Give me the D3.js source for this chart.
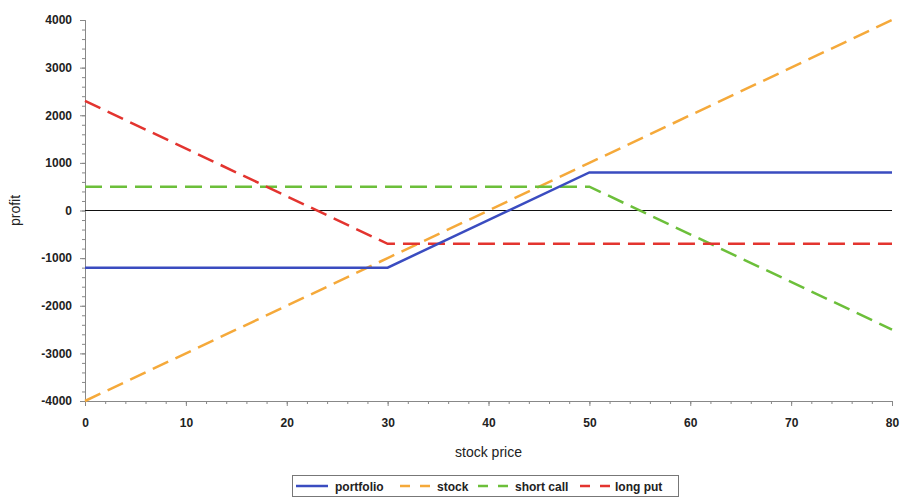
<!DOCTYPE html>
<html><head><meta charset="utf-8">
<script src="https://cdn.jsdelivr.net/npm/d3@7"></script>
<style>body{margin:0;background:#fff}svg{display:block}text{font-family:"Liberation Sans",Arial,sans-serif}</style>
</head><body><svg id="c" width="901" height="500"></svg>
<script>
const stockPrices = [0, 30, 50, 80];
const portfolio = [-1200, -1200, 800, 800];
const stock = [-4000, -1000, 1000, 4000];
const shortCall = [500, 500, 500, -2500];
const longPut = [2300, -700, -700, -700];
const xTicks = [0,10,20,30,40,50,60,70,80];
const yTicks = [-4000,-3000,-2000,-1000,0,1000,2000,3000,4000];
const seriesNames = ["portfolio","stock","short call","long put"];

const svg = d3.select("#c");
const L=85, R=892, T=20, B=401;
const x = d3.scaleLinear().domain([0,80]).range([L,R]);
const y = d3.scaleLinear().domain([-4000,4000]).range([B,T]);
const fmt = d => String(d);

const axisColor="#888";
const gx = svg.append("g").attr("transform",`translate(0,${B})`)
  .call(d3.axisBottom(x).tickValues(d3.range(0,81,2)).tickSize(3).tickFormat(""));
const gy = svg.append("g").attr("transform",`translate(${L},0)`)
  .call(d3.axisLeft(y).tickValues(d3.range(-4000,4001,200)).tickSize(3).tickFormat(""));
[gx,gy].forEach(g=>{g.selectAll("path,line").attr("stroke",axisColor);});
const gx2 = svg.append("g").attr("transform",`translate(0,${B})`)
  .call(d3.axisBottom(x).tickValues(xTicks).tickSize(5).tickPadding(12).tickFormat(fmt));
const gy2 = svg.append("g").attr("transform",`translate(${L},0)`)
  .call(d3.axisLeft(y).tickValues(yTicks).tickSize(5).tickPadding(8).tickFormat(fmt));
[gx2,gy2].forEach(g=>{g.selectAll("path,line").attr("stroke",axisColor);
  g.selectAll("text").attr("font-size","12px").attr("fill","#222").attr("font-weight","bold")
   .style("font-family",'"Liberation Sans",Arial,sans-serif');});

svg.append("line").attr("x1",x(0)).attr("x2",x(80)).attr("y1",y(0)).attr("y2",y(0))
  .attr("stroke","#111").attr("stroke-width",1);

const colors=["#3a4cc0","#f5a93a","#6cbf3a","#e3342f"];
const dashes=[null,"17,8","17,8","17,8"];
const data=[portfolio,stock,shortCall,longPut];
const line=d3.line().x((d,i)=>x(stockPrices[i])).y(d=>y(d));
[1,2,3,0].forEach(k=>{
  svg.append("path").attr("d",line(data[k])).attr("fill","none")
    .attr("stroke",colors[k]).attr("stroke-width",2.5)
    .attr("stroke-dasharray",dashes[k]);
});

svg.append("text").attr("x",x(40)).attr("y",457).attr("text-anchor","middle")
  .attr("font-size","14px").attr("fill","#222").text("stock price");
svg.append("text").attr("transform",`translate(20,${(T+B)/2}) rotate(-90)`)
  .attr("text-anchor","middle").attr("font-size","14px").attr("fill","#222").text("profit");

const lg=svg.append("g");
lg.append("rect").attr("x",292.5).attr("y",475.5).attr("width",386).attr("height",21)
  .attr("fill","#fff").attr("stroke","#777");
const lineX=[296,400,478,580];
const textX=[335,437,515,615];
seriesNames.forEach((n,k)=>{
  lg.append("line").attr("x1",lineX[k]).attr("x2",lineX[k]+32).attr("y1",486).attr("y2",486)
    .attr("stroke",colors[k]).attr("stroke-width",2.5)
    .attr("stroke-dasharray",k?"10,10":null);
  lg.append("text").attr("x",textX[k]).attr("y",490.5).attr("font-size","12px")
    .attr("font-weight","bold").attr("fill","#222").text(n);
});
</script></body></html>
